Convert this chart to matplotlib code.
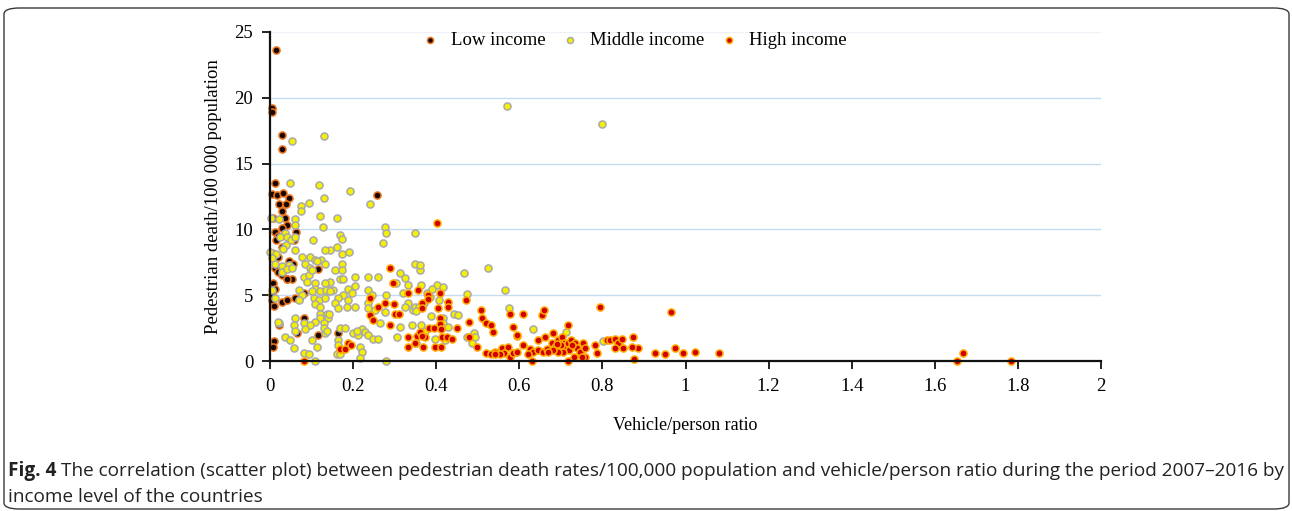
import numpy as np
import matplotlib.pyplot as plt
from matplotlib.patches import FancyBboxPatch

# (vehicle/person ratio, pedestrian deaths per 100 000) by income group
low_pts = [
    (0.014, 23.6), (0.005, 19.2), (0.005, 18.9), (0.029, 17.2), (0.029, 16.1),
    (0.012, 13.5), (0.006, 12.7), (0.018, 12.6), (0.032, 12.8), (0.045, 12.4),
    (0.022, 11.9), (0.038, 11.9), (0.030, 11.4), (0.036, 10.9), (0.008, 10.9),
    (0.041, 10.3), (0.030, 10.1), (0.012, 9.8), (0.063, 9.8), (0.020, 9.5),
    (0.015, 9.2), (0.058, 9.2), (0.028, 8.7), (0.005, 8.2), (0.020, 7.9),
    (0.045, 7.6), (0.055, 7.4), (0.012, 7.1), (0.115, 7.0), (0.020, 6.8),
    (0.030, 6.5), (0.040, 6.2), (0.052, 6.2), (0.008, 5.9), (0.012, 5.5),
    (0.082, 5.2), (0.005, 4.6), (0.030, 4.5), (0.042, 4.6), (0.010, 4.2),
    (0.070, 4.7), (0.082, 3.3), (0.065, 2.1), (0.115, 2.0), (0.022, 2.7),
    (0.010, 1.5), (0.008, 1.1), (0.257, 12.6), (0.005, 5.0), (0.060, 4.8),
    (0.164, 2.1), (0.040, 6.2),
]

middle_pts = [
    (0.570, 19.4), (0.800, 18.0), (0.130, 17.1), (0.053, 16.7), (0.048, 13.5),
    (0.118, 13.4), (0.193, 12.9), (0.130, 12.4), (0.241, 11.9), (0.094, 12.0),
    (0.075, 11.8), (0.075, 11.4), (0.120, 11.0), (0.161, 10.9), (0.002, 10.9),
    (0.022, 10.8), (0.060, 10.8), (0.060, 10.3), (0.128, 10.2), (0.277, 10.2),
    (0.280, 9.7), (0.349, 9.7), (0.272, 9.0), (0.168, 9.6), (0.173, 9.3),
    (0.036, 9.7), (0.024, 9.4), (0.041, 9.4), (0.050, 9.2), (0.060, 9.4),
    (0.103, 9.2), (0.039, 8.8), (0.060, 8.4), (0.031, 8.5), (0.000, 8.3),
    (0.014, 8.1), (0.161, 8.7), (0.144, 8.4), (0.132, 8.4), (0.173, 8.1),
    (0.190, 8.3), (0.077, 7.9), (0.096, 7.9), (0.108, 7.7), (0.123, 7.7),
    (0.132, 7.4), (0.005, 7.8), (0.012, 7.4), (0.029, 7.2), (0.046, 7.3),
    (0.084, 7.4), (0.096, 7.1), (0.113, 7.6), (0.173, 7.4), (0.156, 6.9),
    (0.173, 6.9), (0.349, 7.4), (0.361, 6.9), (0.361, 7.3), (0.313, 6.7),
    (0.325, 6.3), (0.303, 5.9), (0.332, 5.8), (0.236, 6.4), (0.260, 6.4),
    (0.168, 6.2), (0.176, 6.2), (0.205, 6.4), (0.205, 5.7), (0.144, 6.0),
    (0.140, 5.4), (0.152, 5.4), (0.188, 5.5), (0.197, 5.2), (0.176, 5.0),
    (0.164, 4.8), (0.156, 4.4), (0.188, 4.6), (0.205, 4.1), (0.164, 4.0),
    (0.185, 4.1), (0.236, 5.4), (0.245, 5.0), (0.236, 4.4), (0.236, 4.0),
    (0.280, 5.0), (0.253, 3.9), (0.277, 3.7), (0.320, 5.2), (0.332, 4.4),
    (0.344, 3.9), (0.325, 4.1), (0.349, 4.1), (0.137, 3.6), (0.140, 3.3),
    (0.265, 2.9), (0.313, 2.6), (0.342, 2.7), (0.168, 2.5), (0.180, 2.5),
    (0.200, 2.1), (0.212, 2.0), (0.221, 2.4), (0.229, 2.2), (0.236, 2.0),
    (0.210, 2.3), (0.248, 1.7), (0.260, 1.7), (0.306, 1.8), (0.164, 1.6),
    (0.164, 1.2), (0.217, 1.1), (0.221, 0.7), (0.161, 0.5), (0.168, 0.55),
    (0.217, 0.2), (0.280, 0.0), (0.132, 2.1),
    (0.029, 6.8), (0.041, 7.0), (0.053, 7.1), (0.082, 6.4), (0.094, 6.5),
    (0.101, 6.9), (0.089, 6.0), (0.108, 5.9), (0.132, 5.9), (0.108, 5.5),
    (0.101, 5.3), (0.120, 5.3), (0.135, 5.4), (0.144, 5.3), (0.070, 5.4),
    (0.077, 5.0), (0.070, 4.6), (0.106, 4.8), (0.118, 4.6), (0.108, 4.3),
    (0.120, 4.1), (0.132, 4.8), (0.142, 3.6), (0.120, 3.6), (0.120, 3.3),
    (0.108, 3.0), (0.130, 2.9), (0.130, 2.5), (0.137, 2.3), (0.060, 3.3),
    (0.058, 2.7), (0.082, 2.9), (0.096, 2.7), (0.084, 2.4), (0.060, 2.3),
    (0.036, 1.8), (0.048, 1.6), (0.058, 1.0), (0.101, 1.6), (0.113, 1.1),
    (0.082, 0.6), (0.094, 0.5), (0.108, 0.0), (0.022, 2.9), (0.005, 5.4),
    (0.012, 4.8), (0.020, 3.0),
    (0.467, 6.7), (0.525, 7.1), (0.363, 5.8), (0.402, 5.8), (0.416, 5.6),
    (0.378, 5.2), (0.359, 4.1), (0.351, 3.8), (0.407, 4.6), (0.387, 3.4),
    (0.443, 3.6), (0.452, 3.5), (0.474, 5.1), (0.566, 5.4), (0.575, 4.0),
    (0.363, 2.7), (0.373, 2.3), (0.416, 3.3), (0.416, 2.9), (0.428, 2.6),
    (0.491, 2.1), (0.494, 1.8), (0.397, 1.7), (0.420, 1.6), (0.474, 1.8),
    (0.486, 1.4), (0.351, 1.4), (0.390, 5.5), (0.385, 4.9), (0.370, 4.4),
    (0.633, 2.4), (0.712, 2.2), (0.801, 1.5),
]

high_pts = [
    (0.082, 0.0), (0.188, 1.4), (0.195, 1.2), (0.168, 0.9), (0.180, 0.9),
    (0.289, 7.1), (0.296, 5.9), (0.241, 4.8), (0.277, 4.4), (0.298, 4.3),
    (0.260, 4.1), (0.241, 3.5), (0.248, 3.1), (0.301, 3.6), (0.310, 3.6),
    (0.289, 2.7), (0.332, 5.2), (0.332, 1.8), (0.332, 1.1), (0.354, 1.9),
    (0.349, 1.4),
    (0.402, 10.5), (0.356, 5.4), (0.380, 5.0), (0.380, 4.7), (0.366, 4.4),
    (0.366, 4.0), (0.409, 5.2), (0.404, 4.0), (0.428, 4.5), (0.428, 4.1),
    (0.472, 4.6), (0.409, 3.3), (0.409, 2.8), (0.479, 3.0), (0.508, 3.9),
    (0.510, 3.3), (0.520, 2.9), (0.532, 2.7), (0.537, 2.2), (0.578, 3.6),
    (0.585, 2.6), (0.594, 1.9), (0.383, 2.5), (0.395, 2.5), (0.361, 2.2),
    (0.373, 1.8), (0.366, 1.9), (0.411, 2.4), (0.414, 1.8), (0.426, 1.8),
    (0.438, 1.7), (0.450, 2.5), (0.479, 1.8), (0.498, 1.1), (0.368, 1.1),
    (0.397, 1.1), (0.411, 1.1), (0.520, 0.6), (0.542, 0.7), (0.558, 1.0),
    (0.563, 0.6), (0.553, 0.5), (0.573, 1.1), (0.578, 0.3), (0.585, 0.6),
    (0.531, 0.5), (0.542, 0.55),
    (0.609, 3.6), (0.655, 3.5), (0.660, 3.9), (0.794, 4.1), (0.594, 2.0),
    (0.645, 1.6), (0.662, 1.8), (0.681, 2.1), (0.717, 2.7), (0.609, 1.2),
    (0.626, 0.9), (0.633, 0.7), (0.645, 0.8), (0.657, 0.7), (0.667, 0.9),
    (0.679, 1.4), (0.686, 1.1), (0.693, 1.6), (0.703, 1.8), (0.708, 1.4),
    (0.710, 1.1), (0.717, 1.4), (0.720, 0.8), (0.724, 1.6), (0.734, 1.4),
    (0.739, 1.0), (0.746, 0.7), (0.753, 1.4), (0.758, 1.0), (0.758, 0.3),
    (0.751, 0.3), (0.731, 0.3), (0.717, 0.0), (0.705, 0.7), (0.693, 0.7),
    (0.681, 0.8), (0.782, 1.2), (0.787, 0.6), (0.811, 1.6), (0.818, 1.6),
    (0.830, 1.7), (0.838, 1.4), (0.847, 1.7), (0.830, 1.0), (0.850, 1.0),
    (0.594, 0.7), (0.621, 0.5), (0.630, 0.0), (0.669, 0.7), (0.700, 1.2),
    (0.727, 1.2), (0.690, 1.3),
    (0.874, 1.8), (0.927, 0.6), (0.951, 0.5), (0.975, 1.0), (0.994, 0.6),
    (0.876, 0.15), (0.886, 1.0), (0.871, 1.1), (0.965, 3.7), (1.023, 0.7),
    (1.081, 0.6), (1.668, 0.6), (1.653, 0.0), (1.783, 0.0),
]

x_ticks = [0, 0.2, 0.4, 0.6, 0.8, 1, 1.2, 1.4, 1.6, 1.8, 2]
y_ticks = [0, 5, 10, 15, 20, 25]

groups = [
    ("Low income", low_pts, "#1a0800", "#e8731a"),
    ("Middle income", middle_pts, "#f4f000", "#a9a9a9"),
    ("High income", high_pts, "#d00000", "#ffaa00"),
]

W, H = 1292, 511
fig = plt.figure(figsize=(W / 100, H / 100), dpi=100)
ax = fig.add_axes([270 / W, 1 - 361 / H, 831 / W, 329 / H])

for name, pts, face, edge in groups:
    arr = np.array(pts)
    ax.scatter(arr[:, 0], arr[:, 1], s=26, c=face, edgecolors=edge,
               linewidths=1.1, label=name, zorder=3, clip_on=False)

ax.set_xlim(0, 2)
ax.set_ylim(0, 25)
ax.set_xticks(x_ticks)
ax.set_xticklabels(["%g" % t for t in x_ticks])
ax.set_yticks(y_ticks)
for t in y_ticks[1:-1]:
    ax.axhline(t, color="#c5dcf0", lw=1.0, zorder=1)
ax.axhline(25, color="#eef2f6", lw=1.0, zorder=1)

for side in ("top", "right"):
    ax.spines[side].set_visible(False)
for side in ("left", "bottom"):
    ax.spines[side].set_linewidth(1.6)
    ax.spines[side].set_color("#111111")
    ax.spines[side].set_zorder(4)
ax.tick_params(direction="out", length=6, width=1.3, color="#111111",
               labelsize=13.5, pad=6)
for lab in ax.get_xticklabels() + ax.get_yticklabels():
    lab.set_fontfamily("Liberation Serif")

ax.set_xlabel("Vehicle/person ratio", family="Liberation Serif",
              fontsize=13, labelpad=16)
ax.set_ylabel("Pedestrian death/100 000 population", family="Liberation Serif",
              fontsize=13.5, labelpad=9)

leg = ax.legend(loc="upper center", bbox_to_anchor=(0.44, 1.052), ncol=3,
                frameon=False, handlelength=0.6, handletextpad=0.8,
                columnspacing=1.0,
                prop={"family": "Liberation Serif", "size": 13.5},
                markerscale=0.85)

# rounded frame around the whole figure
frame = FancyBboxPatch((4 / W, 2 / H), 1285 / W, 501 / H,
                       boxstyle="round,pad=0,rounding_size=0.012",
                       transform=fig.transFigure, fill=False,
                       edgecolor="#3a3a3a", lw=1.0)
fig.patches.append(frame)

# caption with bold figure number
renderer = fig.canvas.get_renderer()
cap_font = "Open Sans"
cap_size = 13.65
y1 = 1 - 476 / H
y2 = 1 - 502 / H
bold = fig.text(8 / W, y1, "Fig. 4", family=cap_font, weight="bold",
                fontsize=cap_size, va="baseline", color="#222222")
bb = bold.get_window_extent(renderer)
fig.text(bb.x1 / W + 5 / W, y1,
         "The correlation (scatter plot) between pedestrian death rates/100,000 "
         "population and vehicle/person ratio during the period 2007\u20132016 by",
         family=cap_font, fontsize=cap_size, va="baseline", color="#222222")
fig.text(8 / W, y2, "income level of the countries", family=cap_font,
         fontsize=cap_size, va="baseline", color="#222222")

fig.savefig("out.png", dpi=100)
